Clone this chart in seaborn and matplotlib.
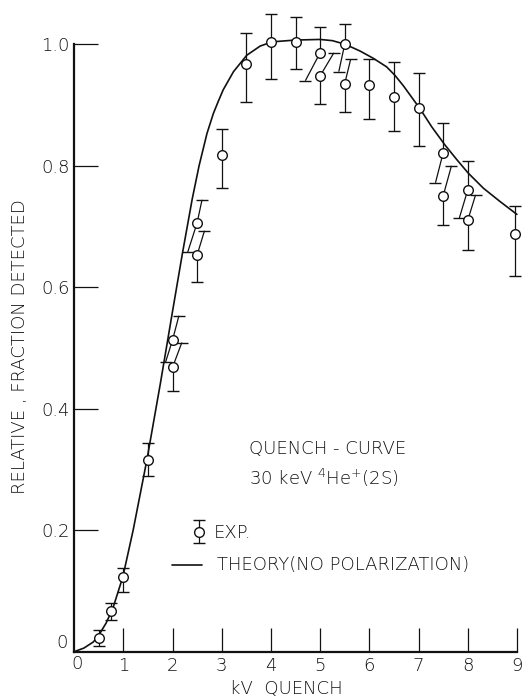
import matplotlib
matplotlib.use("Agg")
import matplotlib.pyplot as plt
import seaborn as sns
import pandas as pd

# Experimental quench-curve points (kV, relative fraction detected)
exp_kv = [0.5, 0.75, 1.0, 1.5, 2.0, 2.0, 2.5, 2.5, 3.0, 3.5, 4.0, 4.5,
          5.0, 5.0, 5.5, 5.5, 6.0, 6.5, 7.0, 7.5, 7.5, 8.0, 8.0, 8.96]
exp_val = [0.022, 0.067, 0.123, 0.316, 0.513, 0.468, 0.706, 0.653, 0.818,
           0.967, 1.004, 1.004, 0.986, 0.948, 1.000, 0.935, 0.933, 0.914,
           0.895, 0.821, 0.750, 0.760, 0.710, 0.687]
err_top = [0.036, 0.081, 0.137, 0.344, 0.553, 0.509, 0.744, 0.693, 0.861,
           1.018, 1.050, 1.045, 1.028, 0.986, 1.033, 0.975, 0.976, 0.971,
           0.952, 0.871, 0.800, 0.808, 0.752, 0.734]
err_bottom = [0.009, 0.052, 0.099, 0.289, 0.477, 0.429, 0.658, 0.608, 0.764,
              0.905, 0.943, 0.959, 0.940, 0.902, 0.955, 0.889, 0.877, 0.858,
              0.833, 0.772, 0.703, 0.714, 0.661, 0.619]
# sideways lean (kV) of the upper / lower half of each error bar, used to
# keep the bars of paired points apart
lean_top = [0, 0, 0, 0, 0.13, 0.19, 0.10, 0.15, 0, 0, 0, 0,
            0, 0.28, 0, 0.12, 0, 0, 0, 0, 0.17, 0, 0.16, 0]
lean_bottom = [0, 0, 0, 0, -0.14, 0, -0.19, 0, 0, 0, 0, 0,
               -0.30, 0, -0.12, 0, 0, 0, 0, -0.155, 0, -0.17, 0, 0]

# Theory curve (no polarization)
theory_kv = [0, 0.2, 0.39, 0.5, 0.65, 0.79, 0.99, 1.20, 1.48, 1.75, 2.0,
             2.2, 2.40, 2.54, 2.70, 2.83, 2.93, 3.03, 3.24, 3.51, 3.78, 4.02,
             4.5, 5.0, 5.25, 5.51, 5.81, 6.08, 6.35, 6.52, 6.69, 6.86, 7.03,
             7.27, 7.54, 7.78, 8.01, 8.32, 8.66, 9.0]
theory_val = [0, 0.006, 0.016, 0.027, 0.047, 0.072, 0.123, 0.20, 0.316, 0.44,
              0.56, 0.655, 0.745, 0.80, 0.853, 0.886, 0.906, 0.925, 0.955,
              0.982, 0.997, 1.004, 1.007, 1.008, 1.006, 1.0, 0.989, 0.977,
              0.963, 0.949, 0.932, 0.913, 0.894, 0.864, 0.834, 0.81, 0.788,
              0.763, 0.741, 0.72]

x_ticks = [1, 2, 3, 4, 5, 6, 7, 8, 9]
x_ticklabels = ["1", "2", "3", "4", "5", "6", "7", "8", "9"]
y_ticks = [0.2, 0.4, 0.6, 0.8, 1.0]
y_ticklabels = ["0.2", "0.4", "0.6", "0.8", "1.0"]

sns.set_theme(style="white")
plt.rcParams["font.family"] = ["DejaVu Sans"]
plt.rcParams["font.weight"] = "light"
plt.rcParams["mathtext.fontset"] = "dejavusans"

W, H = 525, 698
fig = plt.figure(figsize=(W / 100, H / 100), dpi=100)
fig.patch.set_facecolor("white")
ax = fig.add_axes([74.1 / W, 46.3 / H, 442.8 / W, 607.4 / H])
ax.set_facecolor("white")
ax.set_xlim(0, 9)
ax.set_ylim(0, 1.0)

FS = 13
INK = "#111111"

def fpx(x, y):
    return x / W, 1 - y / H

# theory curve
theory = pd.DataFrame({"kv": theory_kv, "val": theory_val})
sns.lineplot(data=theory, x="kv", y="val", ax=ax, color=INK, lw=1.2,
             zorder=2, clip_on=False, legend=False)

# error bars, with leaning halves where points are paired
for x, y, hi, lo, dhi, dlo in zip(exp_kv, exp_val, err_top, err_bottom,
                                  lean_top, lean_bottom):
    ax.plot([x, x + dhi], [y, hi], color=INK, lw=0.9, zorder=3,
            clip_on=False, solid_capstyle="butt")
    ax.plot([x, x + dlo], [y, lo], color=INK, lw=0.9, zorder=3,
            clip_on=False, solid_capstyle="butt")
    ax.plot([x + dhi, x + dlo], [hi, lo], ls="none", marker="_", ms=8,
            mew=1.0, color=INK, zorder=3, clip_on=False)

# open circles
points = pd.DataFrame({"kv": exp_kv, "val": exp_val})
sns.scatterplot(data=points, x="kv", y="val", ax=ax, s=48, marker="o",
                facecolor="white", edgecolor=INK, linewidth=1.0, zorder=4,
                clip_on=False, legend=False)

# axes styling
for side in ("top", "right"):
    ax.spines[side].set_visible(False)
for side in ("left", "bottom"):
    ax.spines[side].set_linewidth(1.6)
    ax.spines[side].set_color(INK)
ax.spines["left"].set_bounds(0, 1.0)

ax.set_xticks(x_ticks)
ax.set_xticklabels(x_ticklabels)
ax.set_yticks(y_ticks)
ax.set_yticklabels(y_ticklabels)
ax.tick_params(axis="both", which="major", bottom=True, left=True,
               top=False, right=False, direction="in", length=17, width=0.9,
               color=INK, labelcolor=INK, labelsize=FS)
ax.tick_params(axis="x", pad=4)
ax.tick_params(axis="y", pad=3)
ax.set_xlabel("")
ax.set_ylabel("")
ax.grid(False)

# origin labels
fig.text(*fpx(62, 643), "0", fontsize=FS, color=INK, ha="center", va="center")
fig.text(*fpx(77, 664), "0", fontsize=FS, color=INK, ha="center", va="center")

# axis titles
fig.text(*fpx(286, 689), "kV  QUENCH", fontsize=FS, color=INK,
         ha="center", va="center")
fig.text(*fpx(20, 347), "RELATIVE , FRACTION DETECTED", fontsize=FS,
         color=INK, ha="center", va="center", rotation=90)

# annotation
fig.text(*fpx(249, 449), "QUENCH - CURVE", fontsize=FS, color=INK,
         ha="left", va="center")
fig.text(*fpx(249, 478), "30 keV $^{4}$He$^{+}$(2S)", fontsize=FS,
         color=INK, ha="left", va="center")

# legend
lx, ly = fpx(199, 532)
ax.plot([lx, lx], [fpx(0, 520)[1], fpx(0, 543)[1]], transform=fig.transFigure,
        color=INK, lw=0.9, clip_on=False)
ax.plot([lx, lx], [fpx(0, 520)[1], fpx(0, 543)[1]], transform=fig.transFigure,
        ls="none", marker="_", ms=8, mew=1.0, color=INK, clip_on=False)
ax.plot([lx], [ly], transform=fig.transFigure, marker="o", ms=7,
        mfc="white", mec=INK, mew=1.0, clip_on=False, zorder=5)
fig.text(*fpx(214, 533), "EXP.", fontsize=FS, color=INK,
         ha="left", va="center")
ax.plot([fpx(172, 0)[0], fpx(202, 0)[0]], [fpx(0, 565)[1]] * 2,
        transform=fig.transFigure, color=INK, lw=1.2, clip_on=False)
fig.text(*fpx(217, 565), "THEORY(NO POLARIZATION)", fontsize=FS, color=INK,
         ha="left", va="center")

fig.savefig("out.png", dpi=100, facecolor="white")
